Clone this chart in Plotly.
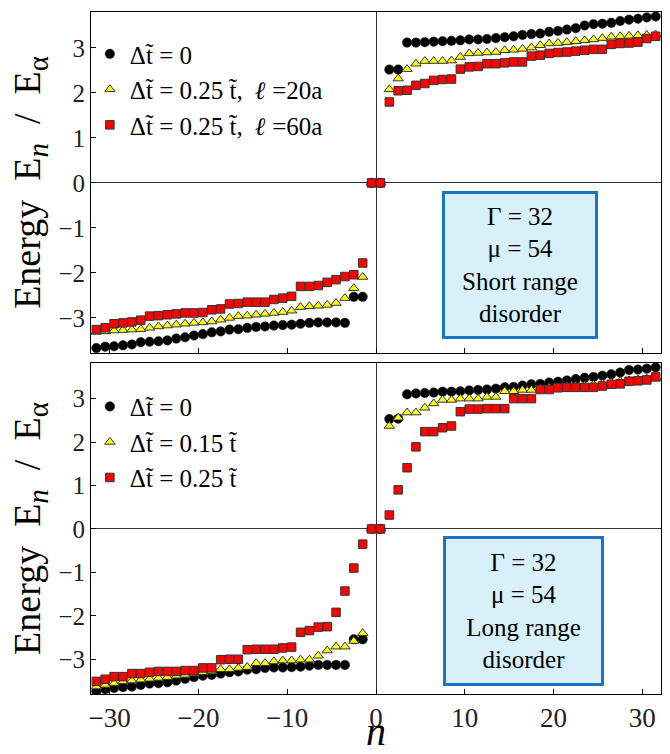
import plotly.graph_objects as go

# ---------------- data ----------------
# eigenvalue index n (half-integers from -31.5 to 31.5)
N_INDEX = [k + 0.5 for k in range(-32, 32)]

# Top panel: short range disorder
TOP_DT0 = [-3.67, -3.64, -3.63, -3.61, -3.59, -3.54, -3.53, -3.52, -3.50, -3.46,
           -3.43, -3.39, -3.36, -3.32, -3.30, -3.26, -3.25, -3.22, -3.20, -3.19,
           -3.17, -3.16, -3.15, -3.13, -3.11, -3.10, -3.10, -3.10, -3.11, -2.53,
           -2.53, 0.0,
           0.0, 2.52, 2.52, 3.12, 3.12, 3.13, 3.14, 3.15, 3.16, 3.17,
           3.19, 3.19, 3.20, 3.22, 3.24, 3.26, 3.29, 3.31, 3.32, 3.36,
           3.38, 3.41, 3.44, 3.50, 3.53, 3.54, 3.56, 3.60, 3.63, 3.65,
           3.68, 3.70]
TOP_L20 = [-3.31, -3.30, -3.28, -3.27, -3.26, -3.25, -3.22, -3.19, -3.17, -3.15,
           -3.13, -3.11, -3.10, -3.08, -3.04, -3.00, -2.96, -2.95, -2.93, -2.91,
           -2.89, -2.87, -2.84, -2.76, -2.74, -2.73, -2.71, -2.67, -2.56, -2.34,
           -2.09, 0.0,
           0.0, 2.08, 2.32, 2.53, 2.65, 2.71, 2.71, 2.71, 2.72, 2.80,
           2.88, 2.89, 2.90, 2.91, 2.95, 2.96, 2.98, 3.01, 3.06, 3.10,
           3.11, 3.13, 3.15, 3.17, 3.19, 3.22, 3.25, 3.26, 3.27, 3.28,
           3.29, 3.30]
TOP_L60 = [-3.26, -3.22, -3.13, -3.11, -3.09, -3.05, -2.96, -2.95, -2.93, -2.91,
           -2.89, -2.89, -2.88, -2.82, -2.80, -2.69, -2.68, -2.65, -2.65, -2.65,
           -2.59, -2.56, -2.52, -2.30, -2.30, -2.28, -2.21, -2.15, -2.08, -2.04,
           -1.78, 0.0,
           0.0, 1.80, 2.05, 2.06, 2.17, 2.21, 2.28, 2.30, 2.31, 2.53,
           2.58, 2.59, 2.65, 2.65, 2.67, 2.69, 2.69, 2.82, 2.84, 2.88,
           2.90, 2.91, 2.93, 2.95, 2.97, 2.97, 3.08, 3.10, 3.11, 3.13,
           3.21, 3.26]

# Bottom panel: long range disorder
BOT_DT0 = [-3.74, -3.69, -3.66, -3.64, -3.63, -3.59, -3.56, -3.55, -3.53, -3.49,
           -3.45, -3.41, -3.38, -3.36, -3.33, -3.30, -3.28, -3.24, -3.23, -3.20,
           -3.19, -3.19, -3.18, -3.17, -3.15, -3.13, -3.13, -3.13, -3.13, -2.54,
           -2.54, 0.0,
           0.0, 2.53, 2.54, 3.10, 3.12, 3.13, 3.14, 3.16, 3.16, 3.17,
           3.19, 3.20, 3.21, 3.23, 3.26, 3.27, 3.30, 3.33, 3.34, 3.37,
           3.39, 3.42, 3.45, 3.48, 3.50, 3.53, 3.56, 3.60, 3.66, 3.67,
           3.69, 3.72]
BOT_D15 = [-3.63, -3.59, -3.55, -3.51, -3.49, -3.47, -3.45, -3.43, -3.41, -3.38,
           -3.36, -3.33, -3.30, -3.28, -3.23, -3.23, -3.20, -3.18, -3.09, -3.09,
           -3.05, -3.03, -3.03, -3.01, -3.01, -2.92, -2.80, -2.71, -2.71, -2.58,
           -2.40, 0.0,
           0.0, 2.37, 2.56, 2.68, 2.68, 2.79, 2.89, 2.97, 2.97, 3.00,
           3.00, 3.00, 3.04, 3.04, 3.17, 3.17, 3.20, 3.20, 3.23, 3.25,
           3.27, 3.28, 3.29, 3.30, 3.32, 3.35, 3.37, 3.40, 3.42, 3.44,
           3.46, 3.48]
BOT_D25 = [-3.51, -3.46, -3.40, -3.40, -3.33, -3.33, -3.30, -3.28, -3.28, -3.28,
           -3.26, -3.26, -3.20, -3.20, -3.01, -3.00, -3.00, -2.78, -2.77, -2.77,
           -2.77, -2.74, -2.72, -2.38, -2.34, -2.26, -2.25, -1.92, -1.43, -0.90,
           -0.35, 0.0,
           0.0, 0.32, 0.90, 1.41, 1.89, 2.24, 2.24, 2.33, 2.37, 2.70,
           2.76, 2.76, 2.77, 2.77, 2.77, 3.00, 3.00, 3.00, 3.21, 3.21,
           3.25, 3.26, 3.26, 3.26, 3.26, 3.29, 3.33, 3.34, 3.40, 3.41,
           3.43, 3.50]

TOP_NAMES = ["Δt̃ = 0",
             "Δt̃ = 0.25 t̃,  <b><i>ℓ</i></b> =20a",
             "Δt̃ = 0.25 t̃,  <b><i>ℓ</i></b> =60a"]
BOT_NAMES = ["Δt̃ = 0", "Δt̃ = 0.15 t̃", "Δt̃ = 0.25 t̃"]

TOP_BOX = "Γ = 32<br>μ = 54<br>Short range<br>disorder"
BOT_BOX = "Γ = 32<br>μ = 54<br>Long range<br>disorder"

X_TICKS = [-30, -20, -10, 0, 10, 20, 30]
Y_TICKS = [-3, -2, -1, 0, 1, 2, 3]

# ---------------- styles ----------------
FONT = "Liberation Serif"
STYLES = [
    dict(symbol="circle", size=9.5, color="black", line=dict(color="#222", width=0.5)),
    dict(symbol="triangle-up", size=9, color="#ffff00", line=dict(color="#333", width=1)),
    dict(symbol="square", size=8.5, color="#ff0000", line=dict(color="#333", width=1)),
]

fig = go.Figure()
for i, (ys, name) in enumerate(zip([TOP_DT0, TOP_L20, TOP_L60], TOP_NAMES)):
    fig.add_trace(go.Scatter(x=N_INDEX, y=ys, mode="markers", name=name,
                             marker=STYLES[i], xaxis="x", yaxis="y",
                             legend="legend", legendgroup=f"t{i}"))
for i, (ys, name) in enumerate(zip([BOT_DT0, BOT_D15, BOT_D25], BOT_NAMES)):
    fig.add_trace(go.Scatter(x=N_INDEX, y=ys, mode="markers", name=name,
                             marker=STYLES[i], xaxis="x2", yaxis="y2",
                             legend="legend2", legendgroup=f"b{i}"))

axis_common = dict(showgrid=False, showline=True, mirror=True, linecolor="black",
                   linewidth=1, ticks="inside", ticklen=5, tickcolor="black",
                   zeroline=True, zerolinecolor="#333", zerolinewidth=1,
                   automargin=False)

ytitle = ("Energy  E<sub><span style='font-size:29px'><i>n</i></span></sub>  /  "
          "E<sub><span style='font-size:29px'>α</span></sub>")

fig.update_layout(
    template="none",
    width=670, height=754,
    margin=dict(l=91, r=9, t=12, b=60, autoexpand=False),
    paper_bgcolor="white", plot_bgcolor="white",
    font=dict(family=FONT, color="black"),
    xaxis=dict(domain=[0, 1], anchor="y", range=[-32.1, 32.1], tickvals=X_TICKS,
               showticklabels=False, **axis_common),
    yaxis=dict(domain=[0.5, 1], anchor="x", range=[-3.78, 3.8], tickvals=Y_TICKS,
               tickfont=dict(size=25, family=FONT, color="#222"),
               title=dict(text=ytitle, font=dict(size=38, family=FONT), standoff=6),
               **axis_common),
    xaxis2=dict(domain=[0, 1], anchor="y2", range=[-32.1, 32.1], tickvals=X_TICKS,
                tickfont=dict(size=27, family=FONT, color="#222"),
                title=dict(text="<i>n</i>", font=dict(size=40, family=FONT), standoff=1),
                **axis_common),
    yaxis2=dict(domain=[0, 0.4853], anchor="x2", range=[-3.8, 3.82], tickvals=Y_TICKS,
                tickfont=dict(size=25, family=FONT, color="#222"),
                title=dict(text=ytitle, font=dict(size=38, family=FONT), standoff=6),
                **axis_common),
    legend=dict(x=-0.002, y=0.972, xanchor="left", yanchor="top",
                bgcolor="rgba(0,0,0,0)", font=dict(size=25, family=FONT),
                tracegroupgap=0, traceorder="grouped"),
    legend2=dict(x=-0.002, y=0.455, xanchor="left", yanchor="top",
                 bgcolor="rgba(0,0,0,0)", font=dict(size=25, family=FONT),
                 tracegroupgap=0, traceorder="grouped"),
    showlegend=True,
)

box_common = dict(xref="paper", yref="paper", showarrow=False,
                  font=dict(size=25, family=FONT, color="black"),
                  bgcolor="#d8f0fa", bordercolor="#1a73c4", borderwidth=3,
                  borderpad=2, align="center", xanchor="center", yanchor="middle")
fig.add_annotation(text=TOP_BOX, x=0.7535, y=0.6283, width=146, height=138, **box_common)
fig.add_annotation(text=BOT_BOX, x=0.758, y=0.1224, width=151, height=140, **box_common)

fig.write_html("out.html", config={"displayModeBar": False},
               post_script="document.body.style.margin='0px';")
